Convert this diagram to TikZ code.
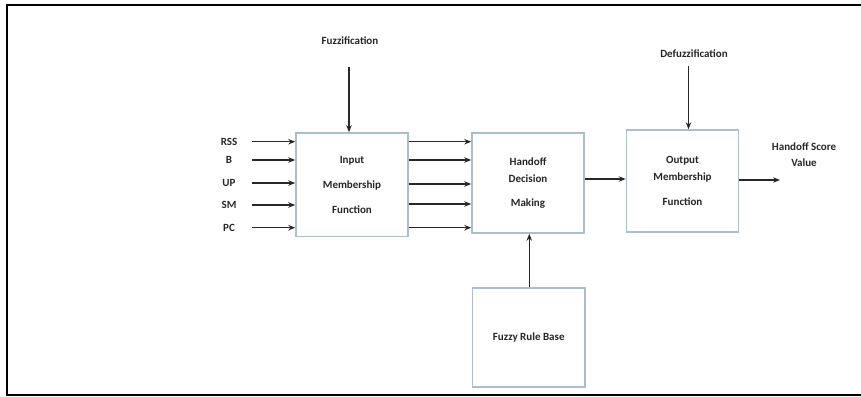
\documentclass[tikz,border=0pt]{standalone}
\usepackage{fontspec}
\setmainfont{Carlito}
\usetikzlibrary{arrows.meta}
\definecolor{boxline}{RGB}{172,188,210}
\definecolor{arrline}{RGB}{40,40,40}
\begin{document}
\begin{tikzpicture}[x=1pt,y=-1pt,
  every node/.style={font=\fontsize{11}{13.2}\selectfont\bfseries, text=black!85},
  blk/.style={draw=boxline, line width=1.5pt, fill=white, align=center, inner sep=0pt},
  arr/.style={draw=arrline, line width=1.3pt, -{Stealth[length=7pt,width=5.5pt]}},
  frameline/.style={draw=black, line width=2pt}
]
\useasboundingbox (0,0) rectangle (861,396);
\draw[frameline] (862,5) -- (7.3,5) -- (7.3,395.3) -- (862,395.3);

% blocks
\node[blk, minimum width=112pt, minimum height=103.5pt] (in) at (352,184.75)
  {Input\\[12pt]Membership\\[11.5pt]Function};
\node[blk, minimum width=112pt, minimum height=100pt] (hd) at (528,183)
  {Handoff\\[3.8pt]Decision\\[11.5pt]Making};
\node[blk, minimum width=112pt, minimum height=102pt] (out) at (682.5,181)
  {Output\\[3.8pt]Membership\\[11.5pt]Function};
\node[blk, minimum width=112.5pt, minimum height=99pt] (frb) at (528.75,337.5)
  {Fuzzy Rule Base};

% input labels
\node (l1) at (229,141.7) {RSS};
\node (l2) at (229,160) {B};
\node (l3) at (229,183) {UP};
\node (l4) at (229,205) {SM};
\node (l5) at (229,227.7) {PC};
\coordinate (s1) at (252,141.7);
\coordinate (s2) at (252,160);
\coordinate (s3) at (252,183);
\coordinate (s4) at (252,205);
\coordinate (s5) at (252,227.7);
\foreach \i in {1,...,5} { \draw[arr] (s\i) -- (s\i -| in.west); }

% in -> hd
\foreach \yy in {141.7,160,184,204,227.7} {
  \draw[arr] (in.east |- 0,\yy) -- (hd.west |- 0,\yy);
}

% hd -> out
\draw[arr] (hd.east |- 0,179) -- (out.west |- 0,179);

% out -> result
\coordinate (res) at (780,180);
\draw[arr] (out.east |- res) -- (res);
\node[align=center] (hsv) at (804,155) {Handoff Score\\[2.8pt]Value};

% fuzzification
\node (fz) at (350,40.7) {Fuzzification};
\coordinate (fzs) at (349,66.7);
\draw[arr] (fzs) -- (fzs |- in.north);

% defuzzification
\node (dfz) at (694,53.3) {Defuzzification};
\coordinate (dfs) at (688.5,65.5);
\draw[arr] (dfs) -- (dfs |- out.north);

% rule base -> decision
\coordinate (rb) at (529.3,0);
\draw[arr] (rb |- frb.north) -- (rb |- hd.south);
\end{tikzpicture}
\end{document}
